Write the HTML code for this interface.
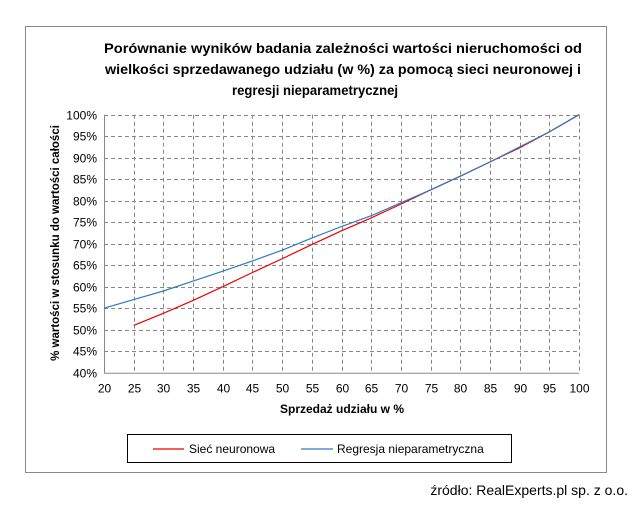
<!DOCTYPE html>
<html><head><meta charset="utf-8"><style>
body{margin:0;background:#fff;font-family:"Liberation Sans",Arial,sans-serif}
#wrap{position:relative;width:634px;height:500px}
</style></head><body><div id="wrap">
<svg id="c" width="634" height="500" xmlns="http://www.w3.org/2000/svg">
<rect x="25.5" y="26.5" width="581" height="446" fill="#fff" stroke="#888"/>
<g font-weight="bold" font-size="14" text-anchor="middle" fill="#000">
<text x="343" y="53" textLength="478" lengthAdjust="spacingAndGlyphs">Porównanie wyników badania zależności wartości  nieruchomości od</text>
<text x="343" y="74" textLength="476" lengthAdjust="spacingAndGlyphs">wielkości sprzedawanego udziału (w %) za pomocą  sieci neuronowej i</text>
<text x="315" y="95" textLength="166" lengthAdjust="spacingAndGlyphs">regresji nieparametrycznej</text>
</g>
<g id="grid"></g><g id="axes"></g><g id="series"></g>
<text x="342" y="413" font-size="12" font-weight="bold" text-anchor="middle">Sprzedaż udziału  w %</text>
<text transform="translate(59,243) rotate(-90)" font-size="11.5" font-weight="bold" text-anchor="middle">% wartości w stosunku do wartości całości</text>
<rect x="127.5" y="434.5" width="384" height="28" fill="#fff" stroke="#000"/>
<g><line x1="153" y1="449" x2="184" y2="449" stroke="#e00" stroke-width="1.2"/><text x="189" y="453" font-size="12">Sieć neuronowa</text></g>
<g><line x1="301" y1="449" x2="333" y2="449" stroke="#2d7bbf" stroke-width="1.2"/><text x="337" y="453" font-size="12">Regresja nieparametryczna</text></g>
<text x="628" y="495" font-size="14" text-anchor="end">źródło: RealExperts.pl sp. z o.o.</text>
</svg></div>
<script>
const blueX=[20,25,30,35,40,45,50,55,60,65,70,75,80,85,90,95,100];
const blueY=[55,57,59,61.3,63.6,66,68.5,71.3,74,76.5,79.5,82.5,85.7,89,92.5,96,100];
const redX=[25,30,35,40,45,50,55,60,65,70,75,80,85,90,95,100];
const redY=[51,53.8,56.8,60,63.3,66.5,69.8,73,76,79.2,82.5,85.7,89,92.3,96,100];
const xTicks=[20,25,30,35,40,45,50,55,60,65,70,75,80,85,90,95,100];
const yTicks=[40,45,50,55,60,65,70,75,80,85,90,95,100];
const X0=104,X1=579,Y0=372.7,Y1=114.7;
const sx=v=>X0+(v-20)/80*(X1-X0), sy=v=>Y0-(v-40)/60*(Y0-Y1);
const NS="http://www.w3.org/2000/svg";
function mk(t,a,p){const e=document.createElementNS(NS,t);for(const k in a)e.setAttribute(k,a[k]);p.appendChild(e);return e;}
const g=document.getElementById('grid'),ax=document.getElementById('axes'),se=document.getElementById('series');
xTicks.forEach(v=>{const x=Math.round(sx(v))+.5;
 if(v>20){const l=mk('line',{x1:x,y1:Y1,x2:x,y2:Y0,stroke:'#888','stroke-dasharray':'4,3'},g);
 
 }
 const t=mk('text',{x:x,y:Y0+20,'font-size':12,'text-anchor':'middle'},ax);t.textContent=v;
 
 });
yTicks.forEach(v=>{const y=Math.round(sy(v))+.5;
 if(v>40){const l=mk('line',{x1:X0,y1:y,x2:X1,y2:y,stroke:'#888','stroke-dasharray':'4,3'},g);
 
 }
 const t=mk('text',{x:X0-7,y:y+4,'font-size':12,'text-anchor':'end'},ax);t.textContent=v+'%';
 
 });
const a1=mk('line',{x1:X0+.5,y1:Y1,x2:X0+.5,y2:Y0,stroke:'#888'},ax);


const a2=mk('line',{x1:X0,y1:Y0+.5,x2:X1,y2:Y0+.5,stroke:'#888'},ax);


const r=mk('polyline',{points:redX.map((x,i)=>sx(x)+','+sy(redY[i])).join(' '),fill:'none',stroke:'#e00','stroke-width':1.2},se);


const b=mk('polyline',{points:blueX.map((x,i)=>sx(x)+','+sy(blueY[i])).join(' '),fill:'none',stroke:'#2d7bbf','stroke-width':1.2},se);


</script></body></html>
